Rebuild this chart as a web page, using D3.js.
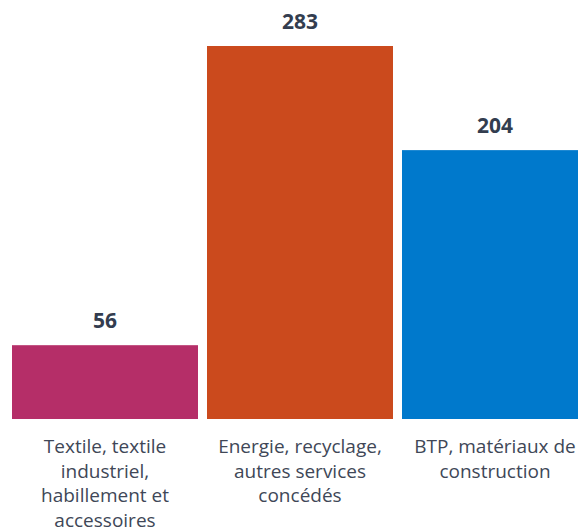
<!DOCTYPE html>
<html>
<head>
<meta charset="utf-8">
<script src="https://cdn.jsdelivr.net/npm/d3@7"></script>
<style>
  html, body { margin: 0; padding: 0; background: #fff; }
  svg { display: block; }
</style>
</head>
<body>
<div id="chart"></div>
<script>
// données du graphique
const categories = ["Textile", "Energie", "BTP"];
const values = [56, 283, 204];
const tickLabels = [
    ["Textile, textile", "industriel,", "habillement et", "accessoires"],
    ["Energie, recyclage,", "autres services", "concédés"],
    ["BTP, matériaux de", "construction"]
];
const colors = ["#B52E68", "#CB4A1D", "#0079CC"];

const width = 578, height = 532;
const baseY = 419;

const svg = d3.select("#chart").append("svg")
    .attr("width", width)
    .attr("height", height);

// échelle horizontale : pas de 195px, barres de 186px
const x = d3.scaleBand()
    .domain(categories)
    .range([7.5, 592.5])
    .paddingInner(9 / 195)
    .paddingOuter(4.5 / 195);

// échelle verticale : 283 -> sommet à 46
const y = d3.scaleLinear()
    .domain([0, 283])
    .range([baseY, 46]);

svg.selectAll("rect.bar")
    .data(values)
    .enter().append("rect")
    .attr("class", "bar")
    .attr("x", (d, i) => x(categories[i]))
    .attr("y", d => y(d))
    .attr("width", x.bandwidth())
    .attr("height", d => baseY - y(d))
    .attr("fill", (d, i) => colors[i]);

// valeurs au-dessus des barres
svg.selectAll("text.value")
    .data(values)
    .enter().append("text")
    .attr("class", "value")
    .attr("x", (d, i) => x(categories[i]) + x.bandwidth() / 2)
    .attr("y", d => y(d) - 17)
    .attr("text-anchor", "middle")
    .style("font-family", "'Open Sans', sans-serif")
    .style("font-size", "21px")
    .style("font-weight", "bold")
    .style("fill", "#333D4F")
    .text(d => d);

// étiquettes de catégories sur plusieurs lignes
svg.selectAll("text.label")
    .data(tickLabels)
    .enter().append("text")
    .attr("class", "label")
    .attr("x", (d, i) => x(categories[i]) + x.bandwidth() / 2)
    .attr("y", baseY + 34)
    .attr("text-anchor", "middle")
    .style("font-family", "'Open Sans', sans-serif")
    .style("font-size", "19px")
    .style("fill", "#404757")
    .each(function (lines, i) {
        const t = d3.select(this);
        const cx = x(categories[i]) + x.bandwidth() / 2;
        lines.forEach((line, k) => {
            t.append("tspan")
                .attr("x", cx)
                .attr("dy", k === 0 ? 0 : 24.5)
                .text(line);
        });
    });
</script>
</body>
</html>
